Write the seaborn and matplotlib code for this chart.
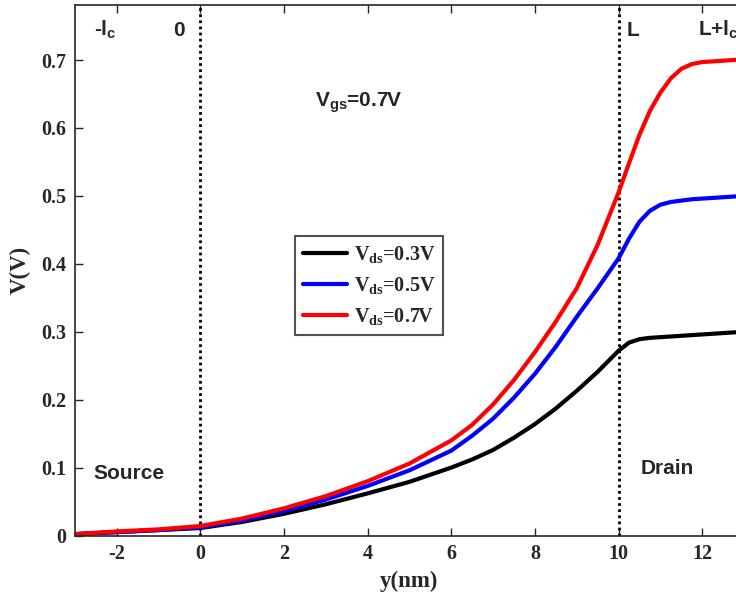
import numpy as np
import pandas as pd
import matplotlib
matplotlib.use("Agg")
import matplotlib.pyplot as plt
import seaborn as sns

# Data
y_nm = [-3, -2, -1, 0, 1, 2, 3, 4, 5, 6, 6.5, 7, 7.5, 8, 8.5, 9, 9.5, 10, 10.25, 10.5, 10.75, 11, 11.25, 11.5, 11.75, 12, 12.5, 13]
v_03 = [0.002, 0.005, 0.008, 0.011, 0.020, 0.032, 0.046, 0.062, 0.079, 0.100, 0.112, 0.126, 0.144, 0.164, 0.187, 0.213, 0.241, 0.272, 0.284, 0.289, 0.291, 0.292, 0.293, 0.294, 0.295, 0.296, 0.298, 0.300]
v_05 = [0.002, 0.005, 0.008, 0.012, 0.022, 0.036, 0.053, 0.073, 0.096, 0.125, 0.147, 0.172, 0.203, 0.238, 0.278, 0.322, 0.364, 0.408, 0.437, 0.462, 0.478, 0.487, 0.491, 0.493, 0.495, 0.496, 0.498, 0.500]
v_07 = [0.002, 0.006, 0.009, 0.014, 0.025, 0.040, 0.058, 0.080, 0.106, 0.140, 0.163, 0.193, 0.229, 0.270, 0.315, 0.364, 0.428, 0.505, 0.548, 0.590, 0.625, 0.652, 0.673, 0.687, 0.694, 0.697, 0.699, 0.701]
labels = [r'$\mathbf{V_{ds}}$=0.3V', r'$\mathbf{V_{ds}}$=0.5V', r'$\mathbf{V_{ds}}$=0.7V']
colors = ['#000000', '#0000ff', '#ff0000']
x_ticks = [-2, 0, 2, 4, 6, 8, 10, 12]
y_ticks = [0, 0.1, 0.2, 0.3, 0.4, 0.5, 0.6, 0.7]
y_ticklabels = ['0', '0.1', '0.2', '0.3', '0.4', '0.5', '0.6', '0.7']

df = pd.concat([
    pd.DataFrame({'y': y_nm, 'V': v, 'series': lab})
    for v, lab in zip([v_03, v_05, v_07], labels)
], ignore_index=True)

sns.set_style("ticks")
plt.rcParams['font.family'] = ['Liberation Serif', 'DejaVu Serif']
plt.rcParams['mathtext.fontset'] = 'custom'
plt.rcParams['mathtext.rm'] = 'Liberation Serif:bold'
plt.rcParams['mathtext.bf'] = 'Liberation Serif:bold'
plt.rcParams['mathtext.sf'] = 'Liberation Sans:bold'
plt.rcParams['mathtext.it'] = 'Liberation Serif:bold:italic'

fig = plt.figure(figsize=(7.36, 6.0), dpi=100)
ax = fig.add_axes([75 / 736, 64.5 / 600, (744 - 75) / 736, (535.5 - 5) / 600])

sns.lineplot(data=df, x='y', y='V', hue='series', palette=colors,
             linewidth=3, ax=ax, legend=True, sort=False)

ax.axvline(0, color='black', linestyle=(0, (1, 1.2)), linewidth=2, zorder=1)
ax.axvline(10, color='black', linestyle=(0, (1, 1.2)), linewidth=2, zorder=1)

ax.set_xlim(-3, 13)
ax.set_ylim(0, 0.781)
ax.set_xticks(x_ticks)
ax.set_xticklabels([str(t) for t in x_ticks])
ax.set_yticks(y_ticks)
ax.set_yticklabels(y_ticklabels)
ax.tick_params(direction='in', length=6, width=1, top=True, right=False,
               labelsize=14.5, color='#262626', pad=6)
for lbl in ax.get_xticklabels() + ax.get_yticklabels():
    lbl.set_fontweight('bold')
for s in ['left', 'bottom', 'top']:
    ax.spines[s].set_color('#262626')
    ax.spines[s].set_linewidth(1.2)
ax.spines['right'].set_visible(False)

ax.set_xlabel('y(nm)', fontsize=16.5, fontweight='bold', labelpad=5)
ax.set_ylabel('V(V)', fontsize=16.5, fontweight='bold', labelpad=8)

sans = dict(family=['Liberation Sans', 'DejaVu Sans'], fontweight='bold', fontsize=15)
ax.text(-2.55, 0.744, r'-$\mathsf{l_c}$', ha='left', va='center', **sans)
ax.text(-0.65, 0.744, '0', ha='left', va='center', **sans)
ax.text(10.2, 0.744, 'L', ha='left', va='center', **sans)
ax.text(11.9, 0.744, r'L+$\mathsf{l_c}$', ha='left', va='center', **sans)
ax.text(2.75, 0.637, r'$\mathsf{V_{gs}}$=0.7V', ha='left', va='center', **sans)
ax.text(-2.55, 0.092, 'Source', ha='left', va='center', **sans)
ax.text(10.53, 0.099, 'Drain', ha='left', va='center', **sans)

handles, labs = ax.get_legend_handles_labels()
leg = ax.legend(handles, labs, loc='upper left', bbox_to_anchor=(0.329, 0.565),
                borderaxespad=0, fancybox=False, frameon=True, handlelength=2.2,
                handletextpad=0.3, labelspacing=0.5, borderpad=0.4,
                prop={'family': 'Liberation Serif', 'weight': 'bold', 'size': 14.5})
leg.get_frame().set_edgecolor('#262626')
leg.get_frame().set_linewidth(1.5)
for line in leg.get_lines():
    line.set_linewidth(3)

fig.savefig('out.png', dpi=100)
